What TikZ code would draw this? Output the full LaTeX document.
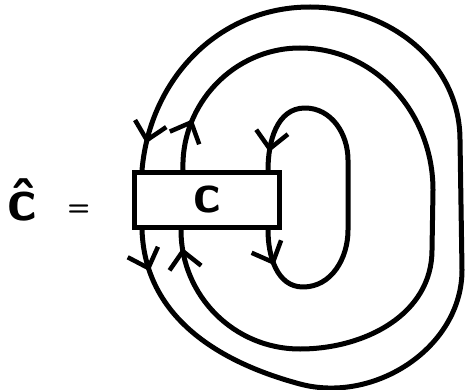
\documentclass[tikz,border=0pt]{standalone}
\usepackage{fontspec}
\usetikzlibrary{arrows.meta,positioning,decorations.markings}
\tikzset{
  barb/.tip={Straight Barb[length=17pt,width=32pt,line width=4.5pt]},
  strand/.style={line width=5pt,line cap=round,line join=round},
  flow/.style 2 args={postaction={decorate,decoration={markings,
    mark=at position #1 with {\arrow{barb}},
    mark=at position #2 with {\arrow{barb}}}}},
  coupon/.style={draw,line width=5pt,minimum width=145pt,minimum height=55pt,
    font=\fontsize{56}{56}\selectfont\sffamily\bfseries},
  handtext/.style={font=\fontsize{60}{60}\selectfont\sffamily\bfseries,inner sep=0pt}
}
\begin{document}
\begin{tikzpicture}[x=1pt,y=-1pt]
  \useasboundingbox (0,0) rectangle (468,390);
  \node[coupon] (box) at (207,200) {c};
  \node[handtext,font=\fontsize{26}{26}\selectfont\sffamily\bfseries,left=42pt of box,yshift=-10pt] (eqsign) {=};
  \node[handtext,left=30pt of eqsign,yshift=10pt] (chat) {\^c};
  % ends of the three strands on the box
  \coordinate (lt) at ([xshift=10pt]box.north west);
  \coordinate (lb) at ([xshift=10pt]box.south west);
  \coordinate (mt) at ([xshift=51pt]box.north west);
  \coordinate (mb) at ([xshift=49pt]box.south west);
  \coordinate (it) at ([xshift=136pt]box.north west);
  \coordinate (ib) at ([xshift=136pt]box.south west);
  % outer loop
  \draw[strand,flow={42pt}{-27pt}] (lb) to[out=-88,in=165] (300,384)
    to[out=-15,in=-90] (462,270) -- (460,140) to[out=90,in=0] (310,7)
    to[out=180,in=85] (lt);
  % middle loop
  \draw[strand,flow={52pt}{-18pt}] (mt) to[out=92,in=180] (300,48)
    to[out=0,in=90] (433,190) -- (432,250) to[out=-90,in=0] (300,349)
    to[out=180,in=-90] (mb);
  % inner loop
  \draw[strand,flow={36pt}{-18pt}] (ib) to[out=-90,in=180] (303,287)
    to[out=0,in=-90] (348,230) -- (348,160) to[out=90,in=0] (305,108)
    to[out=180,in=90] (it);
\end{tikzpicture}
\end{document}
